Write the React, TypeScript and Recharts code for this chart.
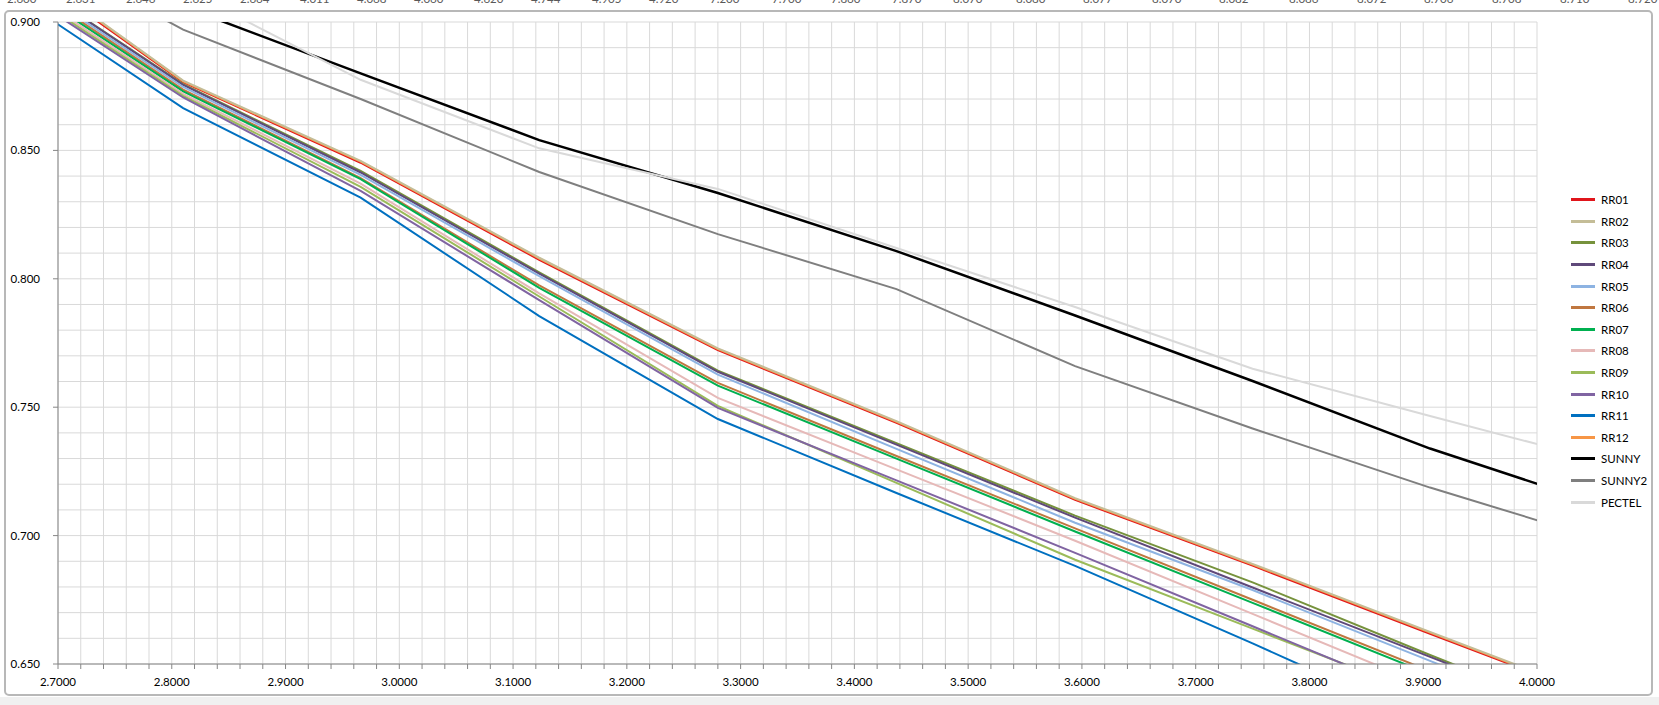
import React from 'react';
import { LineChart, Line, XAxis, YAxis, CartesianGrid } from 'recharts';

// x positions of the sampled points (first and last sit outside the visible range)
const xPoints = [2.653, 2.81, 2.966, 3.123, 3.28, 3.437, 3.594, 3.75, 3.906, 4.063];

const rr01 = [0.926, 0.8766, 0.8452, 0.8074, 0.7722, 0.7439, 0.7139, 0.6883, 0.6618, 0.6353];
const rr02 = [0.927, 0.8772, 0.8459, 0.8082, 0.7729, 0.7446, 0.7146, 0.689, 0.6625, 0.636];
const rr03 = [0.922, 0.8758, 0.842, 0.8025, 0.7642, 0.736, 0.7078, 0.6818, 0.6535, 0.626];
const rr04 = [0.922, 0.8755, 0.8414, 0.802, 0.7638, 0.7354, 0.707, 0.6798, 0.6528, 0.6256];
const rr05 = [0.921, 0.8747, 0.8405, 0.801, 0.7627, 0.7338, 0.705, 0.6788, 0.6512, 0.6236];
const rr06 = [0.92, 0.8737, 0.8392, 0.7974, 0.7595, 0.731, 0.7028, 0.675, 0.6472, 0.619];
const rr07 = [0.919, 0.873, 0.8388, 0.7965, 0.7584, 0.73, 0.7016, 0.6738, 0.646, 0.618];
const rr08 = [0.918, 0.872, 0.8371, 0.7943, 0.7536, 0.7258, 0.698, 0.6695, 0.641, 0.612];
const rr09 = [0.917, 0.8712, 0.8358, 0.7931, 0.7505, 0.7205, 0.6906, 0.6638, 0.637, 0.61];
const rr10 = [0.916, 0.8706, 0.8342, 0.7917, 0.7497, 0.7215, 0.6933, 0.6647, 0.636, 0.607];
const rr11 = [0.913, 0.8665, 0.8316, 0.7855, 0.7454, 0.7166, 0.6882, 0.658, 0.627, 0.596];
const rr12 = [0.9268, 0.8769, 0.8456, 0.8079, 0.7726, 0.7443, 0.7143, 0.6887, 0.6622, 0.6357];
const sunny = [0.932, 0.906, 0.88, 0.854, 0.8334, 0.8108, 0.7857, 0.7602, 0.7339, 0.711];
const sunny2 = [0.935, 0.897, 0.87, 0.8416, 0.8174, 0.796, 0.766, 0.7417, 0.7187, 0.6975];
const pectel = [0.949, 0.913, 0.8775, 0.8508, 0.835, 0.812, 0.789, 0.765, 0.7466, 0.7283];

const seriesNames = ['RR01', 'RR02', 'RR03', 'RR04', 'RR05', 'RR06', 'RR07', 'RR08', 'RR09', 'RR10', 'RR11', 'RR12', 'SUNNY', 'SUNNY2', 'PECTEL'];
const seriesValues = [rr01, rr02, rr03, rr04, rr05, rr06, rr07, rr08, rr09, rr10, rr11, rr12, sunny, sunny2, pectel];
// RR12 goes under RR02 so the tan line stays on top, like in the workbook
const drawOrder = ['RR01', 'RR12', 'RR02', 'RR03', 'RR04', 'RR05', 'RR06', 'RR07', 'RR08', 'RR09', 'RR10', 'RR11', 'SUNNY', 'SUNNY2', 'PECTEL'];

// labels of the axis belonging to the chart above, cut off at the top edge
const cutLabels = ['2.600', '2.631', '2.646', '2.625', '2.664', '4.011', '4.068', '4.060', '4.620', '4.744', '4.905', '4.920', '7.200', '7.700', '7.860', '7.870', '8.070', '8.080', '8.077', '8.070', '8.082', '8.086', '8.072', '8.706', '8.708', '8.710', '8.720'];
const cutLabelX = [23, 82, 142, 199, 256, 316, 373, 430, 490, 547, 608, 665, 726, 788, 847, 908, 969, 1032, 1099, 1168, 1235, 1305, 1373, 1440, 1508, 1576, 1644];

const colors: Record<string, string> = {
  RR01: '#E0151B',
  RR02: '#C4BD97',
  RR03: '#76923C',
  RR04: '#5F497A',
  RR05: '#8DB3E2',
  RR06: '#C07740',
  RR07: '#00B050',
  RR08: '#E6B9B8',
  RR09: '#9BBB59',
  RR10: '#8064A2',
  RR11: '#0070C0',
  RR12: '#F79646',
  SUNNY: '#000000',
  SUNNY2: '#7F7F7F',
  PECTEL: '#D9D9D9',
};

const data = xPoints.map((x, i) => {
  const row: Record<string, number> = { x };
  seriesNames.forEach((name, s) => {
    row[name] = seriesValues[s][i];
  });
  return row;
});

const xTicks = Array.from({ length: 66 }, (_, i) => +(2.7 + i * 0.02).toFixed(2));
const yTicks = Array.from({ length: 26 }, (_, i) => +(0.65 + i * 0.01).toFixed(2));

const FONT = 'Lato, "Noto Sans", sans-serif';
const Y_AXIS_WIDTH = 58;

const XTick = (props: any) => {
  const { x, y, payload } = props;
  const v = payload.value as number;
  if (Math.round(v * 100) % 10 !== 0) return <g />;
  return (
    <text x={x} y={y + 15} textAnchor="middle" fontSize={11.5} fontFamily={FONT} fill="#000">
      {v.toFixed(4)}
    </text>
  );
};

const YTick = (props: any) => {
  const { y, payload } = props;
  const v = payload.value as number;
  if (Math.round(v * 1000) % 50 !== 0) return <g />;
  return (
    <g>
      <line x1={Y_AXIS_WIDTH - 5} x2={Y_AXIS_WIDTH} y1={y} y2={y} stroke="#868686" />
      <text x={Y_AXIS_WIDTH - 18} y={y + 4} textAnchor="end" fontSize={11.5} fontFamily={FONT} fill="#000">
        {v.toFixed(3)}
      </text>
    </g>
  );
};

const ChartLegend = () => (
  <div style={{ position: 'absolute', left: 1571, top: 189, fontFamily: FONT, fontSize: 11.5 }}>
    {seriesNames.map(name => (
      <div key={name} style={{ height: 21.6, display: 'flex', alignItems: 'center' }}>
        <div style={{ width: 24, height: 3, backgroundColor: colors[name], marginRight: 6 }} />
        <span>{name}</span>
      </div>
    ))}
  </div>
);

export default function App() {
  return (
    <div style={{ position: 'absolute', left: 0, top: 0, width: 1659, height: 705, background: '#fff', overflow: 'hidden' }}>
      <div style={{ position: 'absolute', left: 0, top: -8, height: 13, width: 1659, overflow: 'hidden' }}>
        {cutLabels.map((t, i) => (
          <span
            key={i}
            style={{ position: 'absolute', left: cutLabelX[i] - 16, top: 0, fontFamily: FONT, fontSize: 11.5, color: '#595959' }}
          >
            {t}
          </span>
        ))}
      </div>
      <div
        style={{
          position: 'absolute',
          left: 4,
          top: 10,
          width: 1645,
          height: 682,
          border: '2px solid #B8B8B8',
          borderRadius: 5,
        }}
      />
      <div style={{ position: 'absolute', left: 0, top: 697, width: 1659, height: 8, background: '#F0F0F0' }} />
      <div style={{ position: 'absolute', left: 0, top: 0 }}>
        <LineChart width={1659} height={705} data={data} margin={{ top: 22, right: 122, bottom: 0, left: 0 }}>
          <CartesianGrid stroke="#D9D9D9" />
          <XAxis
            dataKey="x"
            type="number"
            domain={[2.7, 4.0]}
            ticks={xTicks}
            allowDataOverflow
            height={41}
            stroke="#868686"
            tickSize={5}
            tickMargin={2}
            tick={<XTick />}
            interval={0}
          />
          <YAxis
            type="number"
            domain={[0.65, 0.9]}
            ticks={yTicks}
            allowDataOverflow
            width={Y_AXIS_WIDTH}
            stroke="#868686"
            tickLine={false}
            tickSize={5}
            tickMargin={2}
            tick={<YTick />}
            interval={0}
          />
          {drawOrder.map(name => (
            <Line
              key={name}
              dataKey={name}
              stroke={colors[name]}
              strokeWidth={name === 'SUNNY' ? 2.5 : 2}
              dot={false}
              activeDot={false}
              isAnimationActive={false}
              type="linear"
            />
          ))}
        </LineChart>
      </div>
      <ChartLegend />
    </div>
  );
}
